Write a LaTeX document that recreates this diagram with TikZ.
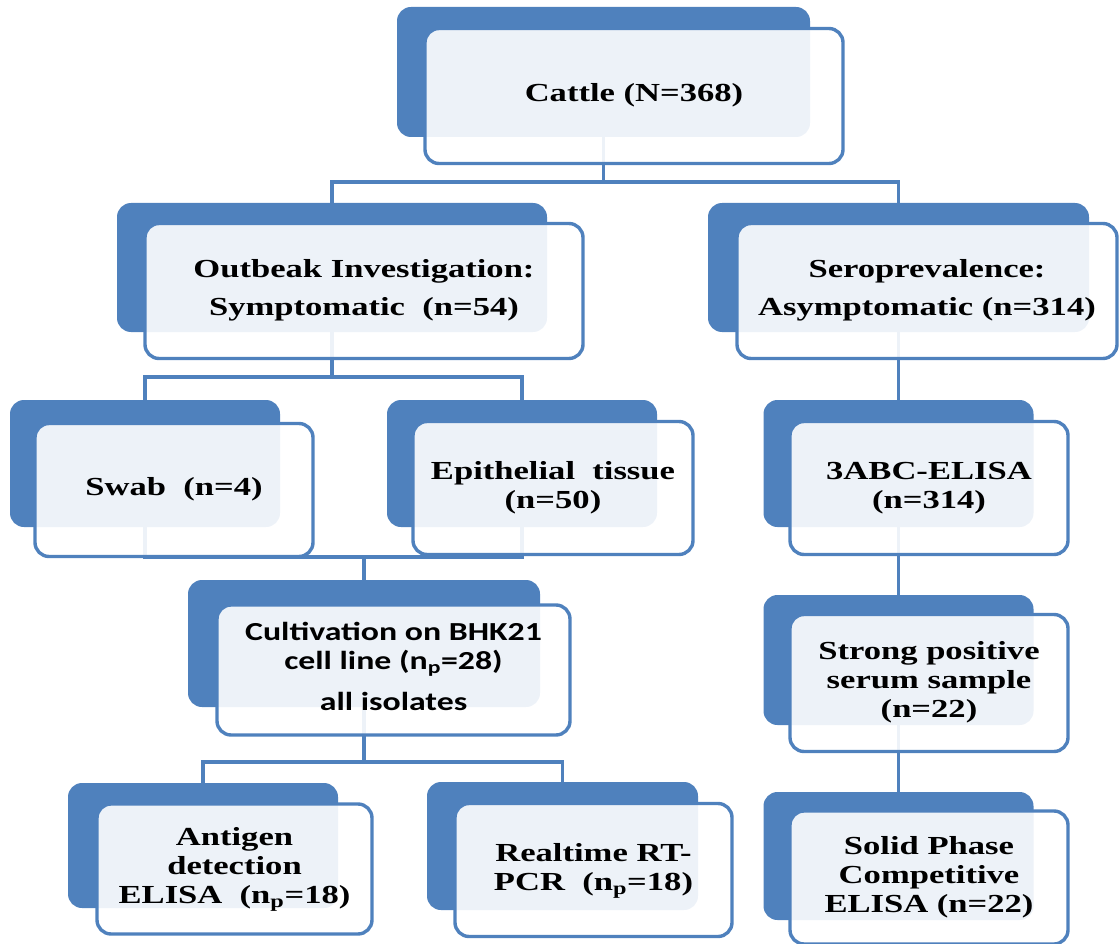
\documentclass[tikz,border=0pt]{standalone}
\usepackage{fontspec}
\setmainfont{Liberation Serif}
\newfontfamily\calib{Carlito}
\definecolor{obl}{RGB}{79,129,189}
\pgfdeclarelayer{bg}
\pgfsetlayers{bg,main}
\newcommand{\bt}[1]{\scalebox{1.33}[1]{\begin{tabular}{@{}c@{}}#1\end{tabular}}}
\begin{document}
\begin{tikzpicture}[x=1pt,y=-1pt,
  backbox/.style={fill=obl, rounded corners=14pt, inner sep=0pt},
  frontbox/.style={draw=obl, line width=3.4pt, fill=white, fill opacity=0.9, text opacity=1, rounded corners=14pt, inner sep=0pt, font=\fontsize{26}{29}\selectfont\bfseries},
  conn/.style={draw=obl, line width=3.4pt}
]
\useasboundingbox (0,0) rectangle (1119,944);

% Cattle
\node[backbox, minimum width=413pt, minimum height=130pt] (cattleB) at (603.5,72) {};
\node[frontbox, minimum width=418pt, minimum height=135pt] (cattle) at (634,96) {\bt{Cattle (N=368)}};

% Outbreak
\node[backbox, minimum width=430pt, minimum height=129pt] (outB) at (332,267.5) {};
\node[frontbox, minimum width=438pt, minimum height=135pt] (out) at (364,291) {\bt{Outbeak Investigation:\\[9pt] Symptomatic\ \ (n=54)}};

% Seroprevalence
\node[backbox, minimum width=381pt, minimum height=129pt] (seroB) at (898.5,267.5) {};
\node[frontbox, minimum width=380pt, minimum height=135pt] (sero) at (927,291) {\bt{Seroprevalence:\\[9pt] Asymptomatic (n=314)}};

% Swab
\node[backbox, minimum width=270pt, minimum height=127pt] (swabB) at (145,463.5) {};
\node[frontbox, minimum width=278pt, minimum height=133pt] (swab) at (174,490) {\bt{Swab\ \ (n=4)}};

% Epithelial
\node[backbox, minimum width=270pt, minimum height=127pt] (epiB) at (522,463.5) {};
\node[frontbox, minimum width=280pt, minimum height=133pt] (epi) at (553,488) {\bt{Epithelial\ \ tissue\\ (n=50)}};

% 3ABC
\node[backbox, minimum width=270pt, minimum height=127pt] (abcB) at (898.5,463.5) {};
\node[frontbox, minimum width=278pt, minimum height=133pt] (abc) at (929,488) {\bt{3ABC-ELISA\\ (n=314)}};

% Cultivation
\node[backbox, minimum width=352pt, minimum height=127pt] (cultB) at (364,643.5) {};
\node[frontbox, minimum width=353pt, minimum height=130pt, font=\fontsize{26}{29}\calib\bfseries] (cult) at (393.5,670) {\scalebox{1.3}[1]{\begin{tabular}{@{}c@{}}Cultivation on BHK21\\ cell line (n\textsubscript{p}=28)\\[12pt] all isolates\end{tabular}}};

% Strong positive
\node[backbox, minimum width=270pt, minimum height=130pt] (strongB) at (898.5,660) {};
\node[frontbox, minimum width=278pt, minimum height=137pt] (strong) at (929,683) {\bt{Strong positive\\ serum sample\\ (n=22)}};

% Antigen
\node[backbox, minimum width=270pt, minimum height=125pt] (antB) at (203,845.5) {};
\node[frontbox, minimum width=275pt, minimum height=130pt] (ant) at (234.5,869) {\bt{Antigen\\ detection\\ ELISA\ \ (n\textsubscript{p}=18)}};

% Realtime
\node[backbox, minimum width=271pt, minimum height=128pt] (rtB) at (562.5,846) {};
\node[frontbox, minimum width=277pt, minimum height=133pt] (rt) at (593.5,870) {\bt{Realtime RT-\\ PCR\ \ (n\textsubscript{p}=18)}};

% Solid phase
\node[backbox, minimum width=270pt, minimum height=128pt] (solidB) at (898.5,856) {};
\node[frontbox, minimum width=278pt, minimum height=133pt] (solid) at (929,877.5) {\bt{Solid Phase\\ Competitive\\ ELISA (n=22)}};

\begin{pgfonlayer}{bg}
\draw[conn] (cattleB.south) -- (cattleB.south |- 0,182) -| (outB.north);
\draw[conn] (cattleB.south) -- (cattleB.south |- 0,182) -| (seroB.north);
\draw[conn] (outB.south) -- (outB.south |- 0,377) -| (swabB.north);
\draw[conn] (outB.south) -- (outB.south |- 0,377) -| (epiB.north);
\draw[conn] (seroB.south) -- (abcB.north);
\draw[conn] (swabB.south) -- (swabB.south |- 0,557) -| (cultB.north);
\draw[conn] (epiB.south) -- (epiB.south |- 0,557) -| (cultB.north);
\draw[conn] (abcB.south) -- (strongB.north);
\draw[conn] (cultB.south) -- (cultB.south |- 0,762) -| (antB.north);
\draw[conn] (cultB.south) -- (cultB.south |- 0,762) -| (rtB.north);
\draw[conn] (strongB.south) -- (solidB.north);
\end{pgfonlayer}
\end{tikzpicture}
\end{document}
